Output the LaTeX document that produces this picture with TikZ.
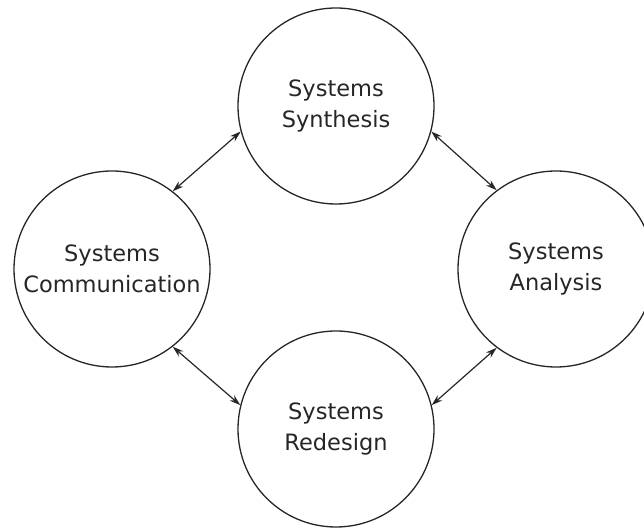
\documentclass[tikz,border=0pt]{standalone}
\usepackage{fontspec}
\setmainfont{DejaVu Sans}
\usetikzlibrary{arrows.meta}

\begin{document}
\begin{tikzpicture}[
	x=1pt,
	y=1pt,
	color=black!85,
	stage/.style={circle, draw, line width=1.3pt, minimum size=196pt,
		inner sep=0pt, align=center, text=black!85,
		font=\fontsize{22.5}{31}\selectfont},
	link/.style={{Stealth[length=11pt,width=7pt]}-{Stealth[length=11pt,width=7pt]},
		line width=1.2pt}]

% page frame
\useasboundingbox (0,0) rectangle (644,529);

% the four stages
\node[stage] (synthesis) at (336,423) {Systems\\Synthesis};
\node[stage] (communication) at (112,260) {Systems\\Communication};
\node[stage] (analysis) at (556,260) {Systems\\Analysis};
\node[stage] (redesign) at (336,100) {Systems\\Redesign};

% arrows between neighbouring stages
\draw[link] (communication.52) -- (synthesis.195);
\draw[link] (synthesis.345) -- (analysis.127);
\draw[link] (communication.308) -- (redesign.166);
\draw[link] (redesign.14) -- (analysis.233);

\end{tikzpicture}
\end{document}
